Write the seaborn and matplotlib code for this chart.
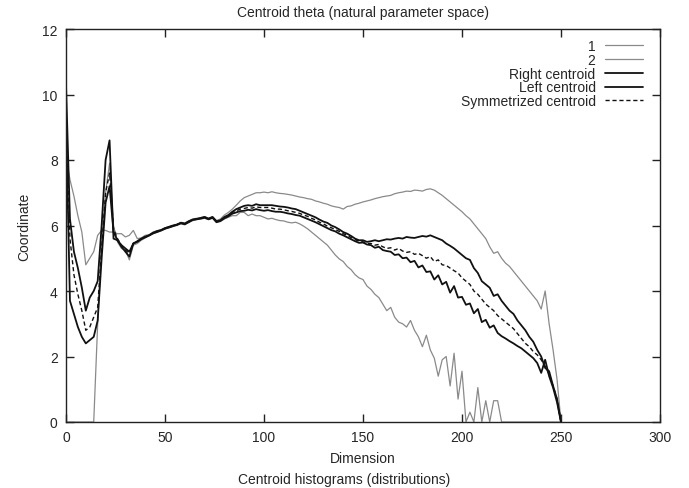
"""
Centroid theta plot (natural parameter space), gnuplot look-alike.
"""
import numpy as np
import matplotlib
matplotlib.use("Agg")
import matplotlib.pyplot as plt
import seaborn as sns

# x grid: dimension index, every 2nd value
dims = list(range(0, 252, 2))

series_1 = [
    8.1, 7.4, 6.9, 6.3, 5.8, 4.8, 5.0, 5.2, 5.7, 5.85,
    5.85, 5.8, 5.8, 5.75, 5.75, 5.65, 5.7, 5.85, 5.6, 5.62,
    5.7, 5.72, 5.8, 5.84, 5.87, 5.93, 5.96, 6.0, 6.03, 6.1,
    6.07, 6.14, 6.2, 6.22, 6.24, 6.27, 6.22, 6.27, 6.15, 6.2,
    6.32, 6.4, 6.5, 6.62, 6.75, 6.85, 6.9, 6.95, 7.0, 7.0,
    7.02, 7.0, 7.03, 7.0, 6.98, 6.97, 6.95, 6.93, 6.9, 6.87,
    6.85, 6.82, 6.8, 6.75, 6.72, 6.68, 6.65, 6.6, 6.57, 6.55,
    6.5, 6.58, 6.6, 6.65, 6.68, 6.72, 6.75, 6.78, 6.82, 6.85,
    6.88, 6.9, 6.92, 6.97, 7.0, 7.02, 7.05, 7.04, 7.08, 7.07,
    7.05, 7.1, 7.12, 7.08, 7.0, 6.92, 6.82, 6.72, 6.62, 6.52,
    6.42, 6.3, 6.2, 6.05, 5.9, 5.75, 5.6, 5.35, 5.15, 5.2,
    5.0, 4.85, 4.75, 4.6, 4.45, 4.3, 4.15, 4.0, 3.85, 3.7,
    3.45, 4.0, 3.0, 2.2, 1.3, 0.0,
]

series_2 = [
    0.0, 0.0, 0.0, 0.0, 0.0, 0.0, 0.0, 0.0, 3.0, 5.5,
    7.0, 7.9, 6.0, 5.5, 5.3, 5.25, 4.95, 5.4, 5.45, 5.55,
    5.62, 5.68, 5.75, 5.8, 5.83, 5.9, 5.93, 5.97, 6.0, 6.05,
    6.02, 6.1, 6.15, 6.18, 6.2, 6.22, 6.18, 6.22, 6.1, 6.12,
    6.2, 6.25, 6.3, 6.3, 6.4, 6.4, 6.3, 6.35, 6.3, 6.3,
    6.25, 6.2, 6.22, 6.18, 6.15, 6.14, 6.1, 6.08, 6.1, 6.05,
    5.98, 5.9, 5.8, 5.7, 5.6, 5.5, 5.4, 5.25, 5.1, 4.98,
    4.9, 4.75, 4.65, 4.5, 4.4, 4.35, 4.15, 4.05, 3.9, 3.8,
    3.6, 3.4, 3.5, 3.2, 3.05, 3.0, 2.9, 3.1, 2.8, 2.6,
    2.3, 2.65, 2.2, 1.95, 1.4, 1.9, 2.0, 1.1, 2.1, 0.7,
    1.55, 0.0, 0.3, 0.0, 1.05, 0.0, 0.65, 0.0, 0.65, 0.65,
    0.0, 0.0, 0.0, 0.0, 0.0, 0.0, 0.0, 0.0, 0.0, 0.0,
    0.0, 0.0, 0.0, 0.0, 0.0, 0.0,
]

right_centroid = [
    10.3, 6.2, 5.2, 4.7, 4.1, 3.4, 3.8, 4.0, 4.3, 6.0,
    8.0, 8.6, 5.6, 5.55, 5.4, 5.3, 5.2, 5.45, 5.52, 5.6,
    5.66, 5.7, 5.78, 5.83, 5.86, 5.92, 5.96, 6.0, 6.03, 6.08,
    6.06, 6.13, 6.18, 6.2, 6.23, 6.26, 6.21, 6.26, 6.13, 6.16,
    6.26, 6.32, 6.42, 6.5, 6.55, 6.6, 6.62, 6.6, 6.65, 6.62,
    6.62, 6.62, 6.62, 6.6, 6.58, 6.57, 6.55, 6.52, 6.5, 6.45,
    6.4, 6.35, 6.3, 6.25, 6.18, 6.12, 6.08, 6.0, 5.95, 5.88,
    5.8, 5.75, 5.68, 5.6, 5.55, 5.55, 5.5, 5.52, 5.55, 5.52,
    5.55, 5.58, 5.57, 5.6, 5.62, 5.6, 5.65, 5.63, 5.62, 5.65,
    5.68, 5.66, 5.7, 5.65, 5.6, 5.55, 5.45, 5.38, 5.3, 5.2,
    5.1, 5.0, 4.95, 4.7, 4.55, 4.3, 4.2, 4.1, 3.85, 3.9,
    3.7, 3.55, 3.4, 3.3, 3.1, 2.95, 2.8, 2.6, 2.45, 2.2,
    2.0, 1.65, 1.55, 1.1, 0.7, 0.0,
]

left_centroid = [
    9.2, 3.7, 3.3, 2.9, 2.6, 2.4, 2.5, 2.6, 3.1, 5.0,
    6.7, 7.2, 5.8, 5.55, 5.35, 5.2, 5.05, 5.45, 5.5, 5.58,
    5.64, 5.7, 5.76, 5.8, 5.85, 5.9, 5.94, 5.98, 6.02, 6.07,
    6.04, 6.1, 6.17, 6.19, 6.21, 6.24, 6.19, 6.24, 6.1, 6.14,
    6.22, 6.28, 6.36, 6.4, 6.44, 6.45, 6.48, 6.46, 6.5, 6.47,
    6.45, 6.47, 6.44, 6.42, 6.42, 6.4, 6.37, 6.35, 6.32, 6.3,
    6.25, 6.2, 6.15, 6.1, 6.04, 5.98, 5.92, 5.86, 5.82, 5.75,
    5.7, 5.64, 5.58, 5.52, 5.47, 5.48, 5.42, 5.4, 5.32, 5.35,
    5.25, 5.22, 5.2, 5.1, 5.12, 5.0, 5.02, 4.88, 4.92, 4.72,
    4.78, 4.58, 4.6, 4.35, 4.48, 4.2, 4.28, 3.95, 4.15, 3.8,
    3.82, 3.58, 3.62, 3.32, 3.45, 3.05, 3.12, 2.88, 2.95, 2.72,
    2.62, 2.55, 2.47, 2.4, 2.32, 2.25, 2.15, 2.05, 1.95, 1.8,
    1.5, 1.9, 1.4, 1.05, 0.6, 0.0,
]

symmetrized_centroid = [
    9.6, 5.6, 4.5, 3.9, 3.4, 2.8, 2.9, 3.2, 3.5, 5.3,
    7.0, 7.6, 5.9, 5.6, 5.4, 5.25, 5.15, 5.45, 5.5, 5.6,
    5.65, 5.7, 5.77, 5.82, 5.85, 5.91, 5.95, 5.99, 6.02, 6.08,
    6.05, 6.12, 6.18, 6.2, 6.22, 6.25, 6.2, 6.25, 6.12, 6.15,
    6.25, 6.3, 6.4, 6.45, 6.5, 6.52, 6.55, 6.53, 6.57, 6.55,
    6.55, 6.55, 6.53, 6.5, 6.5, 6.48, 6.45, 6.43, 6.4, 6.37,
    6.32, 6.28, 6.22, 6.17, 6.1, 6.05, 5.98, 5.93, 5.88, 5.82,
    5.75, 5.7, 5.63, 5.57, 5.52, 5.5, 5.45, 5.45, 5.4, 5.42,
    5.35, 5.3, 5.32, 5.25, 5.3, 5.22, 5.18, 5.2, 5.12, 5.15,
    5.08, 5.0, 5.05, 4.9, 4.95, 4.8, 4.78, 4.7, 4.62, 4.55,
    4.4, 4.3, 4.2, 4.0, 3.9, 3.75, 3.6, 3.5, 3.4, 3.25,
    3.15, 3.05, 2.95, 2.85, 2.7, 2.55, 2.4, 2.3, 2.15, 2.05,
    1.9, 1.7, 1.45, 1.1, 0.7, 0.0,
]

sns.set_style("ticks")
plt.rcParams["font.family"] = ["Liberation Sans", "DejaVu Sans"]
plt.rcParams["font.size"] = 10

fig = plt.figure(figsize=(6.89, 4.89), dpi=100)
ax = fig.add_axes([66 / 689, 1 - 423 / 489, 594 / 689, 393 / 489])

gray = "#8a8a8a"
sns.lineplot(x=dims, y=series_1, ax=ax, color=gray, lw=0.9, label="1")
sns.lineplot(x=dims, y=series_2, ax=ax, color=gray, lw=0.9, label="2")
sns.lineplot(x=dims, y=right_centroid, ax=ax, color="#111111", lw=1.3, label="Right centroid")
sns.lineplot(x=dims, y=left_centroid, ax=ax, color="#111111", lw=1.3, label="Left centroid")
sns.lineplot(x=dims, y=symmetrized_centroid, ax=ax, color="#111111", lw=1.0,
             ls=(0, (3, 2)), label="Symmetrized centroid")

ax.set_xlim(0, 300)
ax.set_ylim(0, 12)
ax.set_xticks(range(0, 301, 50))
ax.set_yticks(range(0, 13, 2))
ax.tick_params(which="major", direction="in", length=6, width=1.0,
               color="#222222", top=True, right=True, bottom=True, left=True,
               labelsize=10, pad=6)
for s in ax.spines.values():
    s.set_linewidth(1.0)
    s.set_color("#222222")
    s.set_visible(True)

ax.set_title("Centroid theta (natural parameter space)", fontsize=10, pad=9)
ax.set_xlabel("Dimension", fontsize=10, labelpad=5)
ax.set_ylabel("Coordinate", fontsize=10, labelpad=8)
fig.text(0.5, 1 - 480 / 489, "Centroid histograms (distributions)",
         ha="center", va="center", fontsize=10)

leg = ax.legend(loc="upper right", bbox_to_anchor=(0.985, 0.995), frameon=False,
                markerfirst=False, handlelength=2.7, handletextpad=0.7,
                labelspacing=-0.02, borderaxespad=0.2, fontsize=10)
for col in leg._legend_handle_box.get_children():
    col.align = "right"

fig.savefig("out.png", dpi=100)
